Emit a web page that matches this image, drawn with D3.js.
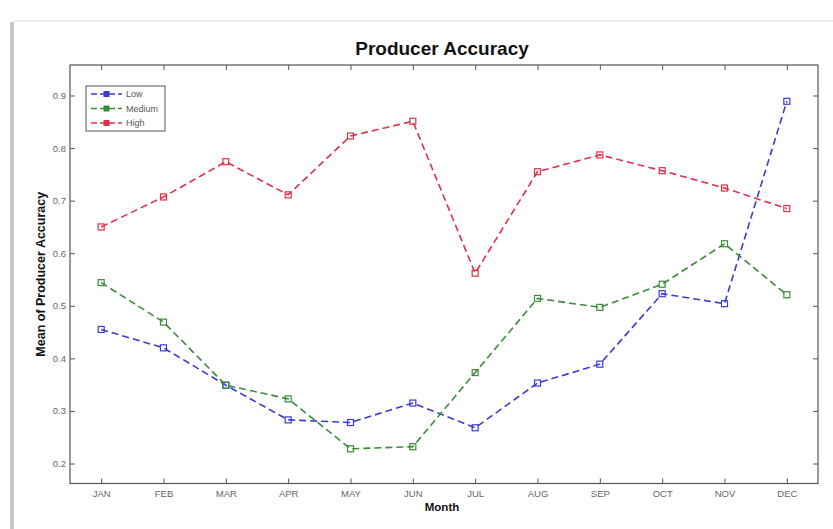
<!DOCTYPE html>
<html>
<head>
<meta charset="utf-8">
<script src="https://cdn.jsdelivr.net/npm/d3@7"></script>
<style>
  body { margin: 0; background: #fff; }
  svg { display: block; font-family: "Liberation Sans", Arial, sans-serif; }
</style>
</head>
<body>
<div id="chart"></div>
<script>
// Data
var months = ["JAN", "FEB", "MAR", "APR", "MAY", "JUN", "JUL", "AUG", "SEP", "OCT", "NOV", "DEC"];
var low    = [0.455, 0.420, 0.349, 0.283, 0.278, 0.315, 0.268, 0.353, 0.389, 0.523, 0.504, 0.889];
var medium = [0.544, 0.469, 0.349, 0.323, 0.228, 0.232, 0.373, 0.514, 0.497, 0.541, 0.618, 0.521];
var high   = [0.650, 0.707, 0.774, 0.711, 0.823, 0.851, 0.562, 0.755, 0.787, 0.757, 0.724, 0.685];
var yTicks = [0.2, 0.3, 0.4, 0.5, 0.6, 0.7, 0.8, 0.9];

var series = [
  { name: "Low", values: low, color: "#3b3bd6" },
  { name: "Medium", values: medium, color: "#3c8a3c" },
  { name: "High", values: high, color: "#e0304a" }
];

var W = 833, H = 529;
var box = { left: 70, right: 818, top: 65, bottom: 483.5 };

var svg = d3.select("#chart").append("svg")
  .attr("width", W)
  .attr("height", H);

// faint frame of the screenshot
svg.append("line")
  .attr("x1", 12).attr("x2", 12).attr("y1", 22).attr("y2", H)
  .attr("stroke", "#c8c8c8").attr("stroke-width", 4);
svg.append("line")
  .attr("x1", 14).attr("x2", W).attr("y1", 21).attr("y2", 21)
  .attr("stroke", "#f0f0f0").attr("stroke-width", 2);

var x = d3.scaleLinear().domain([0.5, 12.5]).range([box.left, box.right]);
var y = d3.scaleLinear().domain([0.162, 0.958]).range([box.bottom, box.top]);

var axisColor = "#555";
var tickLen = 5;

// bottom axis, ticks pointing inward
var xAxis = d3.axisBottom(x)
  .tickValues(d3.range(1, 13))
  .tickFormat(function (d) { return months[d - 1]; })
  .tickSizeInner(-tickLen).tickSizeOuter(0).tickPadding(7);
var gx = svg.append("g")
  .attr("transform", "translate(0," + box.bottom + ")")
  .call(xAxis);

// top axis, ticks only
var gxt = svg.append("g")
  .attr("transform", "translate(0," + box.top + ")")
  .call(d3.axisTop(x).tickValues(d3.range(1, 13)).tickFormat("")
    .tickSizeInner(-tickLen).tickSizeOuter(0));

// left axis
var gy = svg.append("g")
  .attr("transform", "translate(" + box.left + ",0)")
  .call(d3.axisLeft(y).tickValues(yTicks).tickFormat(d3.format(".1f"))
    .tickSizeInner(-tickLen).tickSizeOuter(0).tickPadding(4));

// right axis, ticks only
var gyr = svg.append("g")
  .attr("transform", "translate(" + box.right + ",0)")
  .call(d3.axisRight(y).tickValues(yTicks).tickFormat("")
    .tickSizeInner(-tickLen).tickSizeOuter(0));

[gx, gxt, gy, gyr].forEach(function (g) {
  g.select(".domain").remove();
  g.selectAll(".tick line").attr("stroke", axisColor);
  g.selectAll(".tick text")
    .attr("fill", "#666")
    .style("font-size", "9.5px");
});

// plot box
svg.append("rect")
  .attr("x", box.left).attr("y", box.top)
  .attr("width", box.right - box.left)
  .attr("height", box.bottom - box.top)
  .attr("fill", "none")
  .attr("stroke", axisColor)
  .attr("stroke-width", 1.2);

// lines
var line = d3.line()
  .x(function (d, i) { return x(i + 1); })
  .y(function (d) { return y(d); });

series.forEach(function (s) {
  svg.append("path")
    .datum(s.values)
    .attr("d", line)
    .attr("fill", "none")
    .attr("stroke", s.color)
    .attr("stroke-width", 1.6)
    .attr("stroke-dasharray", "7,4");

  svg.selectAll(null)
    .data(s.values)
    .enter().append("rect")
    .attr("x", function (d, i) { return x(i + 1) - 3; })
    .attr("y", function (d) { return y(d) - 3; })
    .attr("width", 6).attr("height", 6)
    .attr("fill", "none")
    .attr("stroke", s.color)
    .attr("stroke-width", 1.2);
});

// legend
var legend = svg.append("g").attr("transform", "translate(86,86)");
legend.append("rect")
  .attr("width", 79).attr("height", 45)
  .attr("fill", "#fff")
  .attr("stroke", axisColor)
  .attr("stroke-width", 1);
series.forEach(function (s, i) {
  var ly = 8 + i * 14.5;
  legend.append("line")
    .attr("x1", 5).attr("x2", 36).attr("y1", ly).attr("y2", ly)
    .attr("stroke", s.color).attr("stroke-width", 1.4)
    .attr("stroke-dasharray", "6,3");
  legend.append("rect")
    .attr("x", 18).attr("y", ly - 2.5).attr("width", 5).attr("height", 5)
    .attr("fill", s.color).attr("stroke", s.color);
  legend.append("text")
    .attr("x", 40).attr("y", ly + 3)
    .attr("fill", "#555")
    .style("font-size", "9px")
    .text(s.name);
});

// title and axis labels
svg.append("text")
  .attr("x", 442).attr("y", 55)
  .attr("text-anchor", "middle")
  .style("font-size", "19px").style("font-weight", "bold")
  .attr("fill", "#111")
  .text("Producer Accuracy");

svg.append("text")
  .attr("x", 442).attr("y", 511)
  .attr("text-anchor", "middle")
  .style("font-size", "11.5px").style("font-weight", "bold")
  .attr("fill", "#111")
  .text("Month");

svg.append("text")
  .attr("transform", "translate(45," + ((box.top + box.bottom) / 2) + ") rotate(-90)")
  .attr("text-anchor", "middle")
  .style("font-size", "12.5px").style("font-weight", "bold")
  .attr("fill", "#111")
  .text("Mean of Producer Accuracy");
</script>
</body>
</html>
